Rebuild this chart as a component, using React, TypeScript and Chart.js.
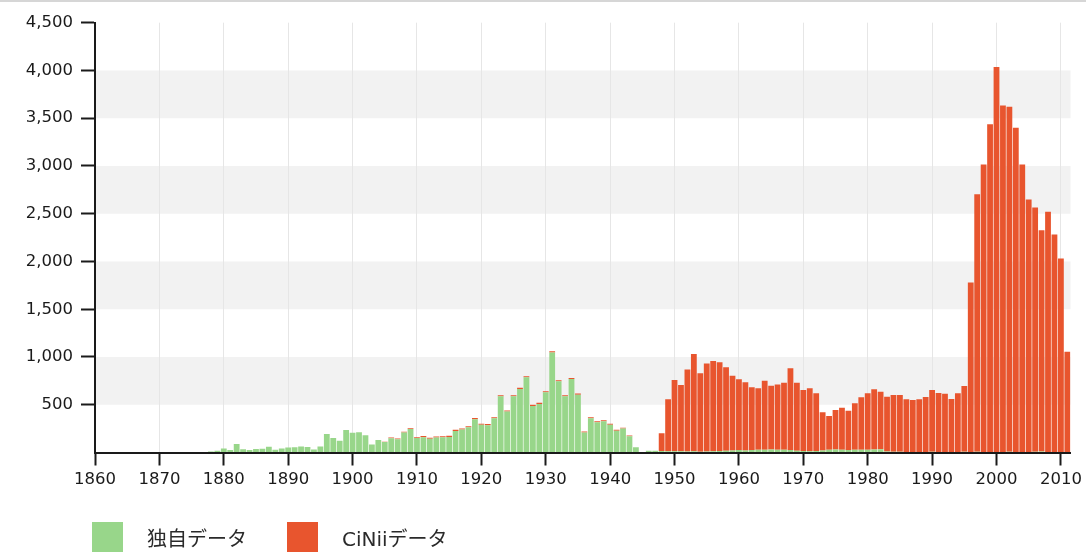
import React, { useEffect, useRef } from "react";
import { Chart, registerables } from "chart.js";

Chart.register(...registerables);

// ---- data ----
const START_YEAR = 1860;

// 独自データ (green), one value per year from 1860 to 2011
const ownData: number[] = [
  // 1860-1869
  0, 0, 0, 0, 0, 0, 0, 0, 0, 0,
  // 1870-1879
  0, 0, 0, 0, 0, 0, 0, 5, 10, 18,
  // 1880-1889
  42, 25, 90, 35, 25, 36, 39, 60, 28, 43,
  // 1890-1899
  52, 54, 62, 58, 31, 64, 195, 153, 124, 235,
  // 1900-1909
  207, 212, 180, 85, 130, 110, 148, 140, 210, 245,
  // 1910-1919
  152, 160, 145, 157, 160, 162, 225, 240, 264, 348,
  // 1920-1929
  290, 286, 358, 588, 430, 588, 665, 787, 488, 508,
  // 1930-1939
  630, 1048, 745, 590, 770, 605, 210, 358, 316, 326,
  // 1940-1949
  290, 228, 250, 170, 54, 3, 18, 18, 15, 12,
  // 1950-1959
  14, 12, 10, 12, 8, 10, 12, 15, 18, 22,
  // 1960-1969
  25, 22, 25, 30, 28, 32, 30, 28, 25, 18,
  // 1970-1979
  15, 12, 15, 20, 28, 32, 30, 25, 28, 30,
  // 1980-1989
  28, 32, 35, 10, 8, 8, 6, 5, 6, 5,
  // 1990-1999
  8, 6, 5, 6, 5, 8, 6, 8, 6, 5,
  // 2000-2011
  6, 5, 8, 6, 5, 6, 8, 10, 6, 5, 4, 3,
];

// CiNiiデータ (orange), stacked on top of the green series
const ciniiData: number[] = [
  // 1860-1869
  0, 0, 0, 0, 0, 0, 0, 0, 0, 0,
  // 1870-1879
  0, 0, 0, 0, 0, 0, 0, 0, 0, 0,
  // 1880-1889
  0, 0, 0, 0, 0, 0, 0, 0, 0, 0,
  // 1890-1899
  0, 0, 0, 0, 0, 0, 0, 0, 0, 0,
  // 1900-1909
  0, 0, 0, 0, 0, 2, 8, 7, 8, 8,
  // 1910-1919
  8, 12, 10, 10, 11, 14, 12, 12, 12, 12,
  // 1920-1929
  12, 12, 12, 12, 10, 12, 12, 12, 12, 12,
  // 1930-1939
  12, 12, 12, 10, 11, 12, 10, 12, 12, 12,
  // 1940-1949
  10, 10, 8, 8, 2, 0, 0, 0, 186, 545,
  // 1950-1959
  745, 694, 860, 1019, 821, 923, 945, 929, 874, 782,
  // 1960-1969
  741, 713, 657, 642, 724, 667, 683, 703, 856, 712,
  // 1970-1979
  639, 660, 605, 401, 354, 413, 439, 412, 487, 548,
  // 1980-1989
  592, 629, 601, 574, 594, 594, 551, 544, 551, 575,
  // 1990-1999
  646, 617, 610, 553, 615, 688, 1775, 2697, 3010, 3433,
  // 2000-2011
  4031, 3628, 3611, 3393, 3011, 2644, 2558, 2318, 2514, 2278, 2028, 1052,
];

const years: number[] = ownData.map((_, i) => START_YEAR + i);
const seriesLabels: string[] = ["独自データ", "CiNiiデータ"];

// axis settings
const X_MIN = 1860;
const X_MAX = 2011.5;
const X_STEP = 10;
const Y_MIN = 0;
const Y_MAX = 4500;
const Y_STEP = 500;

// ---- styles ----
const GREEN = "#98d68a";
const ORANGE = "#e8552e";
const BAND = "#f2f2f2";
const INK = "#1a1a1a";
const FONT = "'DejaVu Sans', 'Noto Sans CJK JP', sans-serif";

const bandsPlugin = {
  id: "bands",
  beforeDraw(chart: any) {
    const { ctx, chartArea, scales } = chart;
    const y = scales.y;
    ctx.save();
    ctx.fillStyle = BAND;
    for (let v = Y_MIN; v < Y_MAX; v += Y_STEP) {
      if (v % (Y_STEP * 2) === Y_STEP) {
        const top = y.getPixelForValue(v + Y_STEP);
        const bottom = y.getPixelForValue(v);
        ctx.fillRect(chartArea.left, top, chartArea.right - chartArea.left, bottom - top);
      }
    }
    ctx.restore();
  },
};

const legendPlugin = {
  id: "customLegend",
  afterDraw(chart: any) {
    const { ctx } = chart;
    const boxSize = 31;
    const boxTop = 520;
    const textGap = 24;
    const itemGap = 40;
    let x = 92;
    ctx.save();
    ctx.font = `20px ${FONT}`;
    ctx.textBaseline = "middle";
    ctx.textAlign = "left";
    chart.data.datasets.forEach((ds: any) => {
      ctx.fillStyle = ds.backgroundColor;
      ctx.fillRect(x, boxTop, boxSize, boxSize);
      const tx = x + boxSize + textGap;
      ctx.fillStyle = "#2a2a2a";
      ctx.fillText(ds.label, tx, boxTop + 19);
      x = tx + ctx.measureText(ds.label).width + itemGap;
    });
    ctx.restore();
  },
};

export default function App() {
  const canvasRef = useRef<HTMLCanvasElement | null>(null);

  useEffect(() => {
    document.body.style.margin = "0";
    const canvas = canvasRef.current;
    if (!canvas) return;
    const tickFont = { family: FONT, size: 16.5 };

    const chart = new Chart(canvas, {
      type: "bar",
      data: {
        datasets: [
          {
            label: seriesLabels[0],
            data: years.map((yr, i) => ({ x: yr, y: ownData[i] })),
            backgroundColor: GREEN,
            borderWidth: 0,
            barPercentage: 0.9,
            categoryPercentage: 1,
          },
          {
            label: seriesLabels[1],
            data: years.map((yr, i) => ({ x: yr, y: ciniiData[i] })),
            backgroundColor: ORANGE,
            borderWidth: 0,
            barPercentage: 0.9,
            categoryPercentage: 1,
          },
        ],
      } as any,
      options: {
        animation: false,
        responsive: false,
        maintainAspectRatio: false,
        events: [],
        layout: { padding: { left: 0, right: 11, top: 20.7, bottom: 59.5 } },
        plugins: {
          legend: { display: false },
          tooltip: { enabled: false },
        },
        scales: {
          x: {
            type: "linear",
            stacked: true,
            min: X_MIN,
            max: X_MAX,
            offset: false,
            afterFit: (s: any) => {
              s.height = 40;
            },
            ticks: {
              stepSize: X_STEP,
              includeBounds: false,
              autoSkip: false,
              maxRotation: 0,
              minRotation: 0,
              padding: 4,
              color: INK,
              font: tickFont,
              callback: (v: any) => String(v),
            },
            grid: {
              offset: false,
              color: "#e6e6e6",
              lineWidth: 1,
              drawTicks: true,
              tickLength: 13,
              tickColor: INK,
              tickWidth: 2,
            },
            border: { display: true, color: INK, width: 2, z: 1 },
          },
          y: {
            stacked: true,
            min: Y_MIN,
            max: Y_MAX,
            afterFit: (s: any) => {
              s.width = 95;
            },
            afterBuildTicks: (axis: any) => {
              axis.ticks = axis.ticks.filter((t: any) => t.value !== 0);
            },
            ticks: {
              stepSize: Y_STEP,
              padding: 8,
              color: INK,
              font: tickFont,
              callback: (v: any) => Number(v).toLocaleString("en-US"),
            },
            grid: {
              offset: false,
              drawOnChartArea: false,
              drawTicks: true,
              tickLength: 14,
              tickColor: INK,
              tickWidth: 2,
            },
            border: { display: true, color: INK, width: 2, z: 1 },
          },
        },
      } as any,
      plugins: [bandsPlugin, legendPlugin],
    });

    return () => {
      chart.destroy();
    };
  }, []);

  return (
    <div
      style={{
        width: 1086,
        height: 552,
        borderTop: "2px solid #d6d6d6",
        boxSizing: "border-box",
        overflow: "hidden",
        background: "#ffffff",
      }}
    >
      <canvas ref={canvasRef} width={1086} height={550} style={{ display: "block" }} />
    </div>
  );
}
